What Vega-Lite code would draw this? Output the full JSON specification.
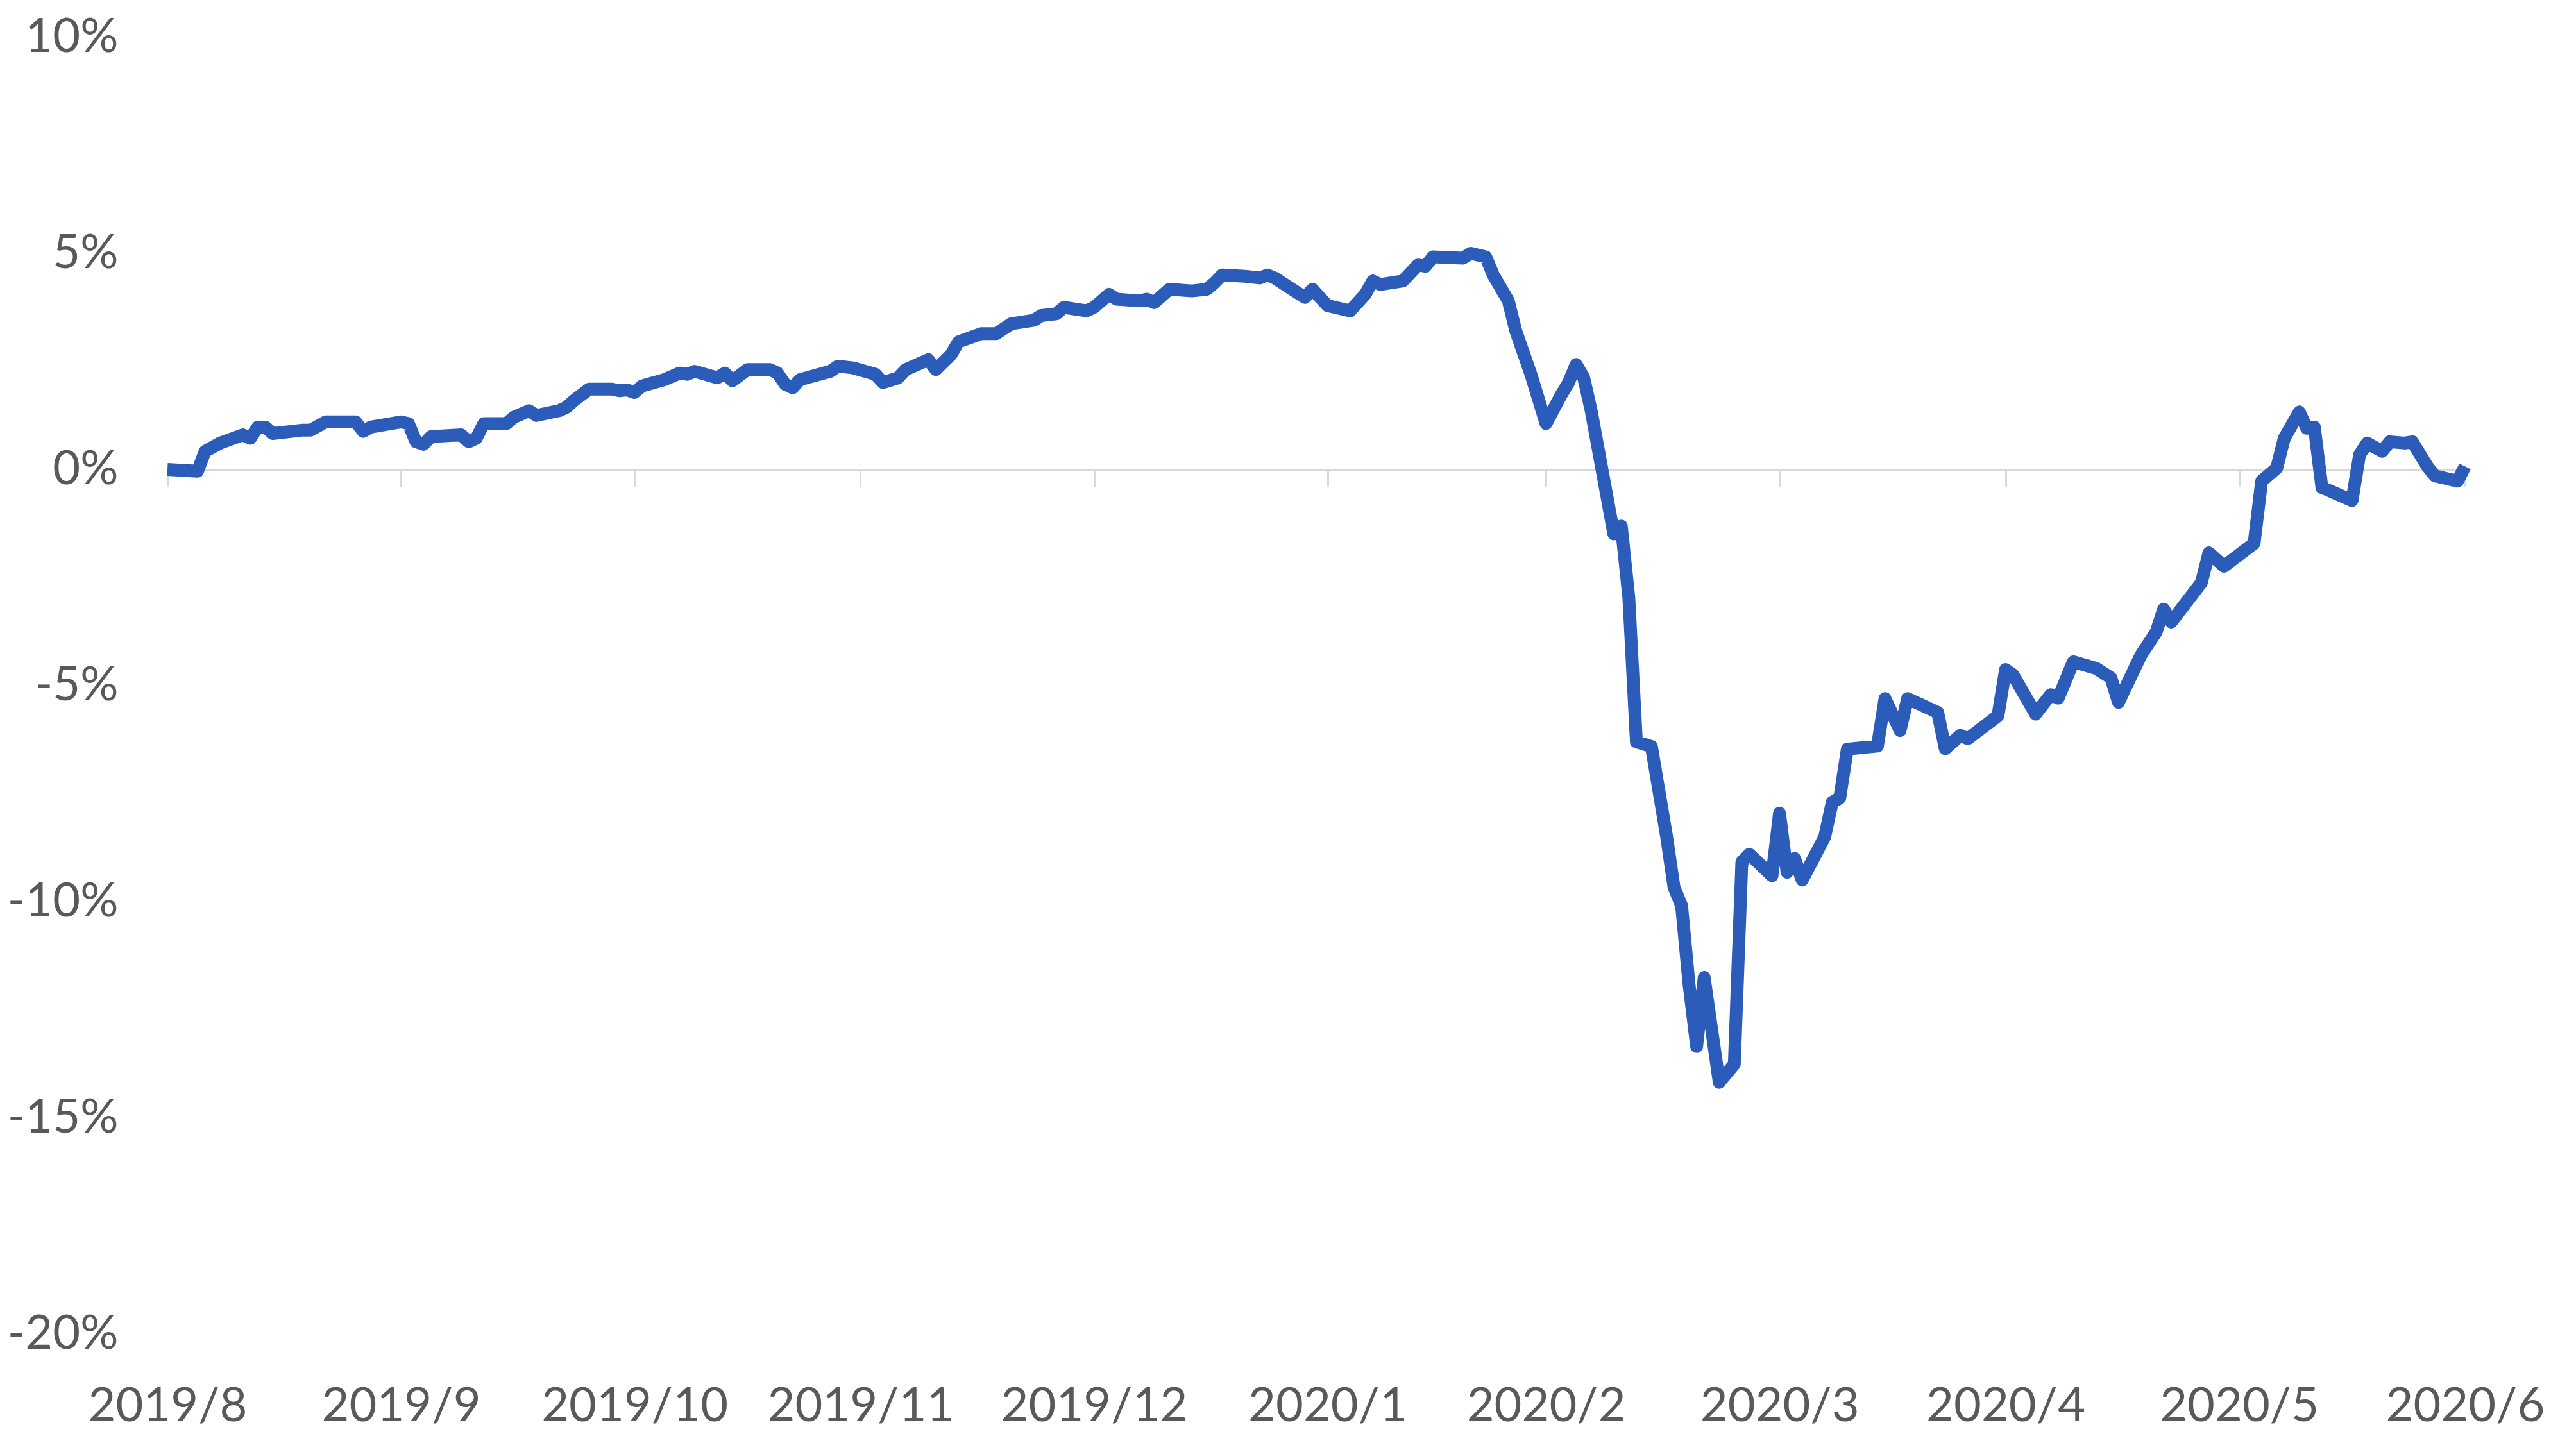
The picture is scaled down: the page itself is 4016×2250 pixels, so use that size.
{
  "$schema": "https://vega.github.io/schema/vega-lite/v6.json",
  "width": 3582,
  "height": 2022,
  "autosize": {"type": "none"},
  "padding": {"left": 261, "top": 58, "right": 173, "bottom": 170},
  "background": "white",
  "config": {"view": {"stroke": null}},
  "data": {"values": [
    {"date": "2019-08-30", "pct": 0},
    {"date": "2019-09-03", "pct": -0.04},
    {"date": "2019-09-04", "pct": 0.42},
    {"date": "2019-09-06", "pct": 0.61},
    {"date": "2019-09-09", "pct": 0.80},
    {"date": "2019-09-10", "pct": 0.72},
    {"date": "2019-09-11", "pct": 0.98},
    {"date": "2019-09-12", "pct": 0.98},
    {"date": "2019-09-13", "pct": 0.83},
    {"date": "2019-09-17", "pct": 0.91},
    {"date": "2019-09-18", "pct": 0.91},
    {"date": "2019-09-20", "pct": 1.10},
    {"date": "2019-09-24", "pct": 1.10},
    {"date": "2019-09-25", "pct": 0.88},
    {"date": "2019-09-26", "pct": 0.98},
    {"date": "2019-09-30", "pct": 1.10},
    {"date": "2019-10-01", "pct": 1.06},
    {"date": "2019-10-02", "pct": 0.64},
    {"date": "2019-10-03", "pct": 0.58},
    {"date": "2019-10-04", "pct": 0.76},
    {"date": "2019-10-08", "pct": 0.80},
    {"date": "2019-10-09", "pct": 0.64},
    {"date": "2019-10-10", "pct": 0.72},
    {"date": "2019-10-11", "pct": 1.06},
    {"date": "2019-10-14", "pct": 1.06},
    {"date": "2019-10-15", "pct": 1.21},
    {"date": "2019-10-17", "pct": 1.36},
    {"date": "2019-10-18", "pct": 1.25},
    {"date": "2019-10-21", "pct": 1.36},
    {"date": "2019-10-22", "pct": 1.44},
    {"date": "2019-10-23", "pct": 1.60},
    {"date": "2019-10-25", "pct": 1.86},
    {"date": "2019-10-28", "pct": 1.86},
    {"date": "2019-10-29", "pct": 1.82},
    {"date": "2019-10-30", "pct": 1.84},
    {"date": "2019-10-31", "pct": 1.78},
    {"date": "2019-11-01", "pct": 1.93},
    {"date": "2019-11-04", "pct": 2.08},
    {"date": "2019-11-06", "pct": 2.23},
    {"date": "2019-11-07", "pct": 2.20},
    {"date": "2019-11-08", "pct": 2.27},
    {"date": "2019-11-11", "pct": 2.12},
    {"date": "2019-11-12", "pct": 2.23},
    {"date": "2019-11-13", "pct": 2.05},
    {"date": "2019-11-15", "pct": 2.31},
    {"date": "2019-11-18", "pct": 2.31},
    {"date": "2019-11-19", "pct": 2.23},
    {"date": "2019-11-20", "pct": 1.97},
    {"date": "2019-11-21", "pct": 1.89},
    {"date": "2019-11-22", "pct": 2.08},
    {"date": "2019-11-26", "pct": 2.27},
    {"date": "2019-11-27", "pct": 2.39},
    {"date": "2019-11-29", "pct": 2.35},
    {"date": "2019-12-02", "pct": 2.20},
    {"date": "2019-12-03", "pct": 2.01},
    {"date": "2019-12-05", "pct": 2.12},
    {"date": "2019-12-06", "pct": 2.31},
    {"date": "2019-12-09", "pct": 2.54},
    {"date": "2019-12-10", "pct": 2.31},
    {"date": "2019-12-12", "pct": 2.65},
    {"date": "2019-12-13", "pct": 2.95},
    {"date": "2019-12-16", "pct": 3.14},
    {"date": "2019-12-18", "pct": 3.14},
    {"date": "2019-12-20", "pct": 3.37},
    {"date": "2019-12-23", "pct": 3.45},
    {"date": "2019-12-24", "pct": 3.56},
    {"date": "2019-12-26", "pct": 3.60},
    {"date": "2019-12-27", "pct": 3.75},
    {"date": "2019-12-30", "pct": 3.67},
    {"date": "2019-12-31", "pct": 3.75},
    {"date": "2020-01-02", "pct": 4.05},
    {"date": "2020-01-03", "pct": 3.94},
    {"date": "2020-01-06", "pct": 3.90},
    {"date": "2020-01-07", "pct": 3.94},
    {"date": "2020-01-08", "pct": 3.86},
    {"date": "2020-01-10", "pct": 4.17},
    {"date": "2020-01-13", "pct": 4.13},
    {"date": "2020-01-15", "pct": 4.17},
    {"date": "2020-01-16", "pct": 4.32},
    {"date": "2020-01-17", "pct": 4.50},
    {"date": "2020-01-20", "pct": 4.47},
    {"date": "2020-01-22", "pct": 4.43},
    {"date": "2020-01-23", "pct": 4.50},
    {"date": "2020-01-24", "pct": 4.43},
    {"date": "2020-01-26", "pct": 4.20},
    {"date": "2020-01-28", "pct": 3.98},
    {"date": "2020-01-29", "pct": 4.17},
    {"date": "2020-01-31", "pct": 3.79},
    {"date": "2020-02-03", "pct": 3.67},
    {"date": "2020-02-05", "pct": 4.05},
    {"date": "2020-02-06", "pct": 4.36},
    {"date": "2020-02-07", "pct": 4.28},
    {"date": "2020-02-10", "pct": 4.36},
    {"date": "2020-02-12", "pct": 4.73},
    {"date": "2020-02-13", "pct": 4.70},
    {"date": "2020-02-14", "pct": 4.92},
    {"date": "2020-02-18", "pct": 4.89},
    {"date": "2020-02-19", "pct": 5.00},
    {"date": "2020-02-21", "pct": 4.92},
    {"date": "2020-02-22", "pct": 4.50},
    {"date": "2020-02-24", "pct": 3.90},
    {"date": "2020-02-25", "pct": 3.20},
    {"date": "2020-02-27", "pct": 2.20},
    {"date": "2020-02-29", "pct": 1.06},
    {"date": "2020-03-02", "pct": 1.72},
    {"date": "2020-03-03", "pct": 2.01},
    {"date": "2020-03-04", "pct": 2.43},
    {"date": "2020-03-05", "pct": 2.13},
    {"date": "2020-03-06", "pct": 1.36},
    {"date": "2020-03-09", "pct": -1.49},
    {"date": "2020-03-10", "pct": -1.31},
    {"date": "2020-03-11", "pct": -2.97},
    {"date": "2020-03-12", "pct": -6.30},
    {"date": "2020-03-14", "pct": -6.41},
    {"date": "2020-03-16", "pct": -8.48},
    {"date": "2020-03-17", "pct": -9.67},
    {"date": "2020-03-18", "pct": -10.09},
    {"date": "2020-03-19", "pct": -11.93},
    {"date": "2020-03-20", "pct": -13.35},
    {"date": "2020-03-21", "pct": -11.75},
    {"date": "2020-03-23", "pct": -14.18},
    {"date": "2020-03-25", "pct": -13.76},
    {"date": "2020-03-26", "pct": -9.08},
    {"date": "2020-03-27", "pct": -8.90},
    {"date": "2020-03-30", "pct": -9.40},
    {"date": "2020-03-31", "pct": -7.95},
    {"date": "2020-04-01", "pct": -9.32},
    {"date": "2020-04-02", "pct": -9.00},
    {"date": "2020-04-03", "pct": -9.50},
    {"date": "2020-04-06", "pct": -8.50},
    {"date": "2020-04-07", "pct": -7.70},
    {"date": "2020-04-08", "pct": -7.60},
    {"date": "2020-04-09", "pct": -6.47},
    {"date": "2020-04-13", "pct": -6.40},
    {"date": "2020-04-14", "pct": -5.30},
    {"date": "2020-04-16", "pct": -6.04},
    {"date": "2020-04-17", "pct": -5.30},
    {"date": "2020-04-21", "pct": -5.62},
    {"date": "2020-04-22", "pct": -6.46},
    {"date": "2020-04-24", "pct": -6.15},
    {"date": "2020-04-25", "pct": -6.23},
    {"date": "2020-04-29", "pct": -5.70},
    {"date": "2020-04-30", "pct": -4.63},
    {"date": "2020-05-01", "pct": -4.75},
    {"date": "2020-05-04", "pct": -5.66},
    {"date": "2020-05-06", "pct": -5.21},
    {"date": "2020-05-07", "pct": -5.29},
    {"date": "2020-05-09", "pct": -4.45},
    {"date": "2020-05-12", "pct": -4.60},
    {"date": "2020-05-14", "pct": -4.82},
    {"date": "2020-05-15", "pct": -5.39},
    {"date": "2020-05-16", "pct": -5.02},
    {"date": "2020-05-18", "pct": -4.29},
    {"date": "2020-05-20", "pct": -3.76},
    {"date": "2020-05-21", "pct": -3.23},
    {"date": "2020-05-22", "pct": -3.53},
    {"date": "2020-05-26", "pct": -2.62},
    {"date": "2020-05-27", "pct": -1.93},
    {"date": "2020-05-29", "pct": -2.24},
    {"date": "2020-06-02", "pct": -1.71},
    {"date": "2020-06-03", "pct": -0.27},
    {"date": "2020-06-05", "pct": 0.03},
    {"date": "2020-06-06", "pct": 0.72},
    {"date": "2020-06-08", "pct": 1.33},
    {"date": "2020-06-09", "pct": 0.95},
    {"date": "2020-06-10", "pct": 0.98},
    {"date": "2020-06-11", "pct": -0.42},
    {"date": "2020-06-12", "pct": -0.49},
    {"date": "2020-06-15", "pct": -0.72},
    {"date": "2020-06-16", "pct": 0.34},
    {"date": "2020-06-17", "pct": 0.61},
    {"date": "2020-06-19", "pct": 0.42},
    {"date": "2020-06-20", "pct": 0.64},
    {"date": "2020-06-22", "pct": 0.61},
    {"date": "2020-06-23", "pct": 0.64},
    {"date": "2020-06-25", "pct": 0.07},
    {"date": "2020-06-26", "pct": -0.15},
    {"date": "2020-06-29", "pct": -0.27},
    {"date": "2020-06-30", "pct": 0.07}
  ]},
  "mark": {"type": "line", "color": "#2b5cb9", "strokeWidth": 20, "strokeJoin": "round", "strokeCap": "butt"},
  "encoding": {
    "x": {
      "field": "date",
      "type": "temporal",
      "scale": {"type": "utc", "domain": [
        {"year": 2019, "month": 8, "date": 30, "utc": true},
        {"year": 2020, "month": 6, "date": 30, "utc": true}
      ]},
      "axis": {
        "title": null,
        "values": [
          {"year": 2019, "month": 8, "date": 30, "utc": true},
          {"year": 2019, "month": 9, "date": 30, "utc": true},
          {"year": 2019, "month": 10, "date": 31, "utc": true},
          {"year": 2019, "month": 11, "date": 30, "utc": true},
          {"year": 2019, "month": 12, "date": 31, "utc": true},
          {"year": 2020, "month": 1, "date": 31, "utc": true},
          {"year": 2020, "month": 2, "date": 29, "utc": true},
          {"year": 2020, "month": 3, "date": 31, "utc": true},
          {"year": 2020, "month": 4, "date": 30, "utc": true},
          {"year": 2020, "month": 5, "date": 31, "utc": true},
          {"year": 2020, "month": 6, "date": 30, "utc": true}
        ],
        "labelExpr": "utcFormat(datum.value, '%Y/%-m')",
        "offset": -1348,
        "domain": true,
        "domainColor": "#d9d9d9",
        "domainWidth": 3,
        "ticks": true,
        "tickColor": "#d9d9d9",
        "tickWidth": 3,
        "tickSize": 27,
        "grid": false,
        "labelPadding": 1398,
        "labelFont": "Lato",
        "labelFontSize": 74,
        "labelColor": "#595959",
        "labelFlush": false,
        "labelOverlap": false,
        "labelBound": false,
        "labelLimit": 2000
      }
    },
    "y": {
      "field": "pct",
      "type": "quantitative",
      "scale": {"domain": [-20, 10], "nice": false, "zero": false},
      "axis": {
        "title": null,
        "values": [-20, -15, -10, -5, 0, 5, 10],
        "labelExpr": "datum.value + '%'",
        "domain": false,
        "ticks": false,
        "grid": false,
        "labelPadding": 77,
        "labelFont": "Lato",
        "labelFontSize": 74,
        "labelColor": "#595959",
        "labelLimit": 2000
      }
    }
  }
}
